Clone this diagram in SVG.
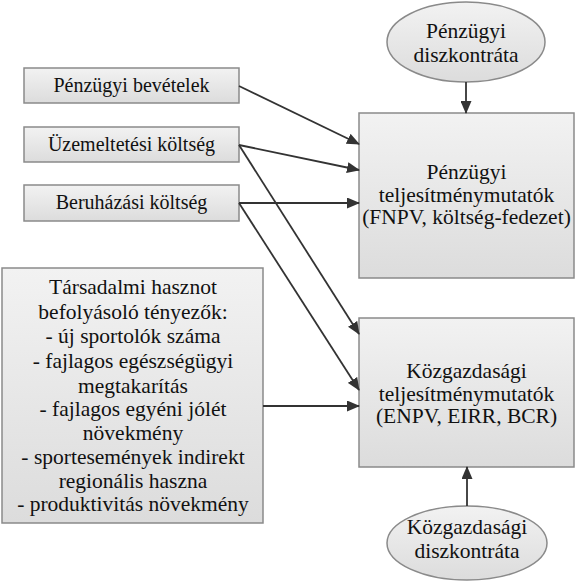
<svg xmlns="http://www.w3.org/2000/svg" width="575" height="581" viewBox="0 0 575 581">
<defs>
<linearGradient id="g" x1="0" y1="0" x2="0" y2="1">
<stop offset="0" stop-color="#f2f2f2"/>
<stop offset="1" stop-color="#dcdcdc"/>
</linearGradient>
<marker id="ah" markerWidth="13" markerHeight="11" refX="12" refY="5.5" orient="auto" markerUnits="userSpaceOnUse">
<path d="M0,0 L13,5.5 L0,11 Z" fill="#333333"/>
</marker>
<style>
.box{fill:url(#g);stroke:#8a8a8a;stroke-width:1.5}
.ell{fill:url(#g);stroke:#8a8a8a;stroke-width:1.5}
text{font-family:"Liberation Serif","Times New Roman",serif;fill:#111111;text-anchor:middle}
.s{font-size:20px}
.m{font-size:21.5px}
.c{stroke:#333333;stroke-width:1.8;fill:none;marker-end:url(#ah)}
</style>
</defs>
<rect width="575" height="581" fill="#ffffff"/>
<g id="n-penzugyi-bevetelek">
<rect class="box" x="24" y="68" width="215" height="35"/>
<text class="s" x="131.5" y="92">Pénzügyi bevételek</text>
</g>
<g id="n-uzemeltetesi">
<rect class="box" x="24" y="127" width="215" height="35"/>
<text class="s" x="131.5" y="151">Üzemeltetési költség</text>
</g>
<g id="n-beruhazasi">
<rect class="box" x="24" y="185" width="215" height="36"/>
<text class="s" x="131.5" y="209">Beruházási költség</text>
</g>
<g id="n-tarsadalmi">
<rect class="box" x="2" y="268" width="261" height="255"/>
<text class="m" x="133" y="294">Társadalmi hasznot</text>
<text class="m" x="133" y="319">befolyásoló tényezők:</text>
<text class="m" x="133" y="343">- új sportolók száma</text>
<text class="m" x="133" y="368">- fajlagos egészségügyi</text>
<text class="m" x="133" y="393">megtakarítás</text>
<text class="m" x="133" y="416">- fajlagos egyéni jólét</text>
<text class="m" x="133" y="440">növekmény</text>
<text class="m" x="133" y="464">- sportesemények indirekt</text>
<text class="m" x="133" y="488">regionális haszna</text>
<text class="m" x="133" y="511">- produktivitás növekmény</text>
</g>
<g id="n-penzugyi-diszkont">
<ellipse class="ell" cx="466" cy="42" rx="79" ry="40"/>
<text class="m" x="466" y="38">Pénzügyi</text>
<text class="m" x="466" y="62">diszkontráta</text>
</g>
<g id="n-penzugyi-mutatok">
<rect class="box" x="359" y="113" width="215" height="165"/>
<text class="m" x="466.5" y="179">Pénzügyi</text>
<text class="m" x="466.5" y="202">teljesítménymutatók</text>
<text class="m" x="466.5" y="224">(FNPV, költség-fedezet)</text>
</g>
<g id="n-kozgazdasagi-mutatok">
<rect class="box" x="359" y="318" width="215" height="149"/>
<text class="m" x="466.5" y="378">Közgazdasági</text>
<text class="m" x="466.5" y="401">teljesítménymutatók</text>
<text class="m" x="466.5" y="423">(ENPV, EIRR, BCR)</text>
</g>
<g id="n-kozgazdasagi-diszkont">
<ellipse class="ell" cx="467" cy="543" rx="80" ry="37"/>
<text class="m" x="467" y="534">Közgazdasági</text>
<text class="m" x="467" y="558">diszkontráta</text>
</g>
<g id="connectors">
<line class="c" x1="239" y1="86" x2="359" y2="144"/>
<line class="c" x1="239" y1="145" x2="359" y2="170"/>
<line class="c" x1="239" y1="203" x2="359" y2="203"/>
<line class="c" x1="239" y1="145" x2="359" y2="334"/>
<line class="c" x1="239" y1="203" x2="359" y2="390"/>
<line class="c" x1="263" y1="406" x2="359" y2="406"/>
<line class="c" x1="466" y1="82" x2="466" y2="113"/>
<line class="c" x1="467" y1="506" x2="467" y2="467"/>
</g>
</svg>
